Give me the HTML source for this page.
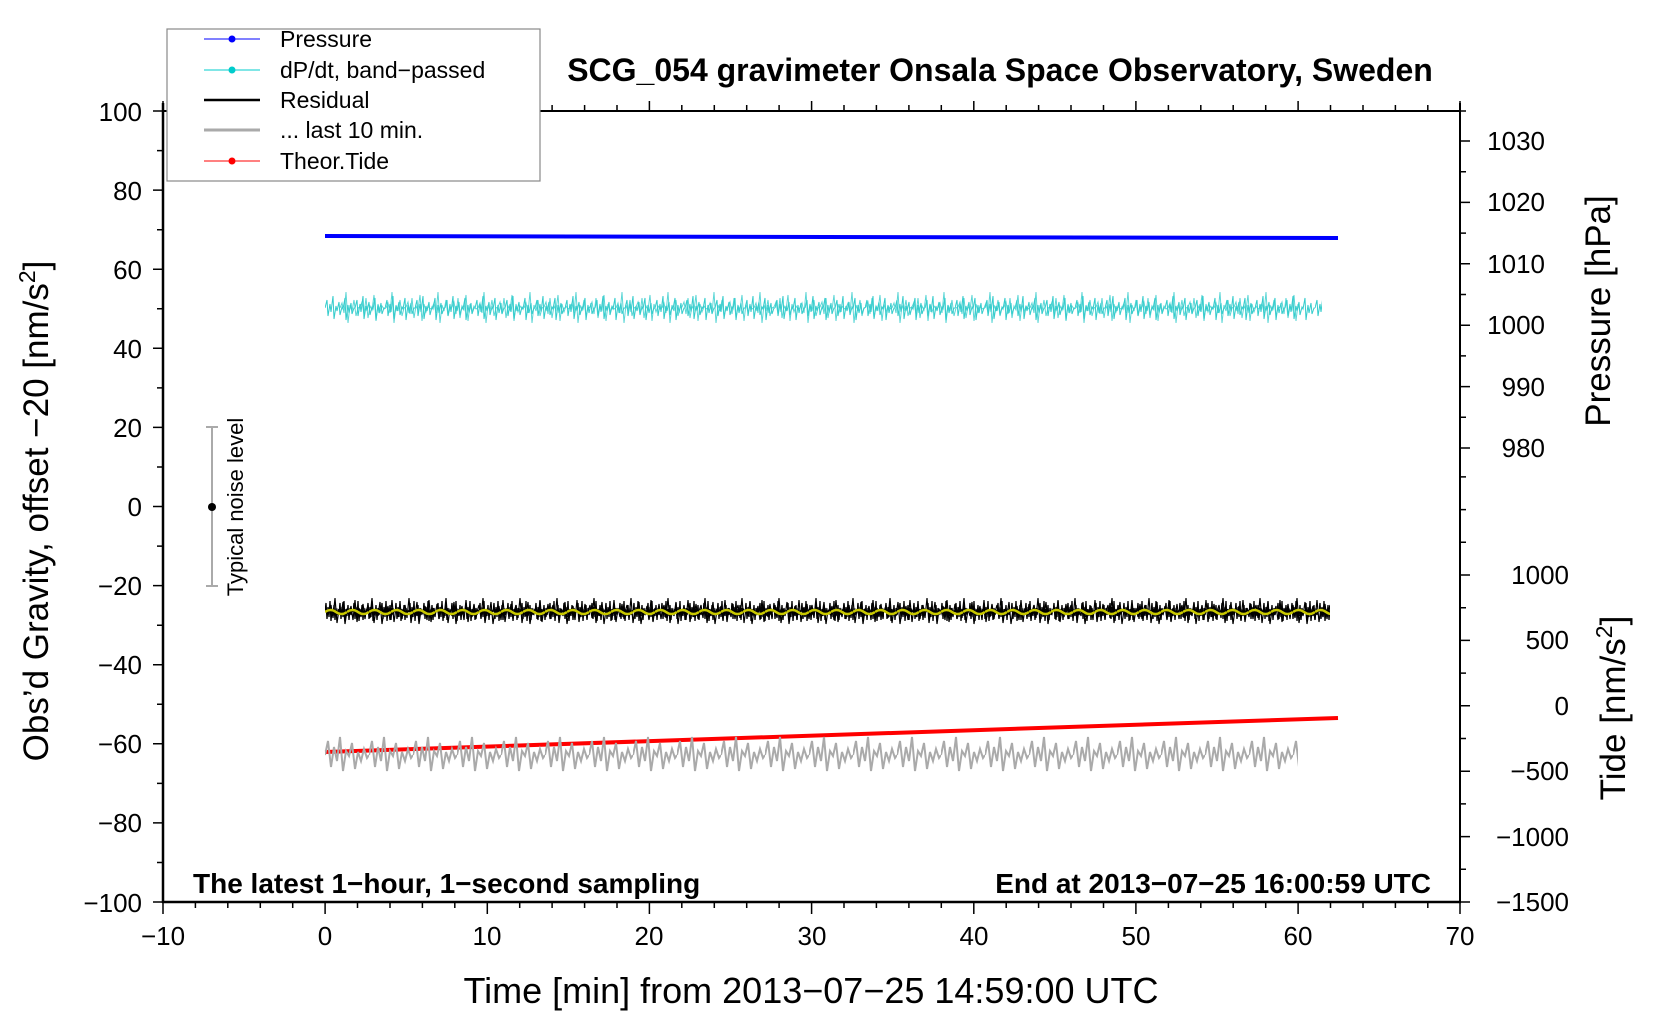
<!DOCTYPE html>
<html><head><meta charset="utf-8"><style>
html,body{margin:0;padding:0;background:#fff;}
svg{display:block;font-family:"Liberation Sans",sans-serif;}
</style></head><body>
<svg width="1660" height="1020" viewBox="0 0 1660 1020" xmlns="http://www.w3.org/2000/svg">
<defs>
<pattern id="pc" patternUnits="userSpaceOnUse" x="325" y="278" width="30" height="60">
<polyline points="0,30 2,22 3,38 5,26 6,34 8,18 9,41 11,28 12,33 14,24 15,37 17,29 18,31 20,20 21,42 23,27 24,35 26,25 27,36 29,30 30,30" fill="none" stroke="#33cccc" stroke-width="1"/>
</pattern>
<pattern id="pc2" patternUnits="userSpaceOnUse" x="340" y="278" width="46" height="60">
<polyline points="0,30 2,25 4,35 6,14 8,45 10,27 12,33 14,22 16,38 18,30 20,29 22,24 24,36 26,20 28,40 30,28 32,32 34,17 36,43 38,26 40,34 42,28 44,31 46,30" fill="none" stroke="#33cccc" stroke-width="1"/>
</pattern>
<pattern id="pk" patternUnits="userSpaceOnUse" x="325" y="590" width="14" height="44">
<polyline points="0,22 1,13 2,29 3,17 4,27 5,11 6,31 7,19 8,26 9,15 10,30 11,18 12,25 13,20 14,22" fill="none" stroke="#000" stroke-width="1.3"/>
</pattern>
<pattern id="pk2" patternUnits="userSpaceOnUse" x="329" y="590" width="37" height="44">
<polyline points="0,22 2,15 4,28 6,8 8,33 10,19 12,26 14,12 16,34 18,20 20,24 22,16 24,30 26,10 28,32 30,18 32,27 34,14 36,29 37,22" fill="none" stroke="#000" stroke-width="1.2"/>
</pattern>
<pattern id="py" patternUnits="userSpaceOnUse" x="325" y="590" width="22" height="44">
<path d="M0,22 Q5.5,18 11,22 T22,22" fill="none" stroke="#c8c800" stroke-width="2.5"/>
</pattern>
<pattern id="pg" patternUnits="userSpaceOnUse" x="325" y="725" width="44" height="60">
<polyline points="0,30 3,16 6,42 9,22 12,36 15,12 18,46 21,26 24,31 27,18 30,44 33,27 36,36 39,24 42,33 44,30" fill="none" stroke="#aaa" stroke-width="2"/>
</pattern>
</defs>
<rect width="1660" height="1020" fill="#fff"/>

<line x1="325" y1="236" x2="1338" y2="238" stroke="#00f" stroke-width="4"/>
<rect x="325" y="278" width="997" height="60" fill="url(#pc)"/>
<rect x="340" y="278" width="960" height="60" fill="url(#pc2)" opacity="0.8"/>
<rect x="325" y="590" width="1005" height="44" fill="url(#pk)"/>
<rect x="329" y="590" width="1001" height="44" fill="url(#pk2)"/>
<rect x="325" y="590" width="1005" height="44" fill="url(#py)"/>
<line x1="325" y1="752" x2="1338" y2="718" stroke="#f00" stroke-width="4"/>
<rect x="325" y="725" width="973" height="60" fill="url(#pg)"/>

<g stroke="#000" stroke-width="1.5" fill="none">
<line x1="163" y1="103" x2="163" y2="903" stroke-width="2.5"/>
<line x1="162" y1="902" x2="1461" y2="902" stroke-width="2.5"/>
<line x1="1460" y1="103" x2="1460" y2="903" stroke-width="2"/>
<line x1="163" y1="111" x2="1460" y2="111" stroke-width="2"/>
<path d="M153,111H163M153,190.1H163M153,269.2H163M153,348.3H163M153,427.4H163M153,506.5H163M153,585.6H163M153,664.7H163M153,743.8H163M153,822.9H163M153,902H163
M157,150.6H163M157,229.7H163M157,308.8H163M157,387.9H163M157,467H163M157,546.1H163M157,625.2H163M157,704.3H163M157,783.4H163M157,862.5H163"/>
<path d="M163,902V914M325.1,902V914M487.3,902V914M649.4,902V914M811.6,902V914M973.8,902V914M1135.9,902V914M1298.1,902V914M1460,902V914
M163,111V101M325.1,111V101M487.3,111V101M649.4,111V101M811.6,111V101M973.8,111V101M1135.9,111V101M1298.1,111V101M1460,111V101
M195.4,902v6M227.8,902v6M260.3,902v6M292.7,902v6M357.5,902v6M390,902v6M422.4,902v6M454.8,902v6M519.7,902v6M552.1,902v6M584.6,902v6M617,902v6M681.8,902v6M714.3,902v6M746.7,902v6M779.1,902v6M844,902v6M876.4,902v6M908.9,902v6M941.3,902v6M1006.2,902v6M1038.6,902v6M1071,902v6M1103.5,902v6M1168.4,902v6M1200.8,902v6M1233.2,902v6M1265.7,902v6M1330.5,902v6M1363,902v6M1395.4,902v6M1427.8,902v6
M195.4,111v-6M227.8,111v-6M260.3,111v-6M292.7,111v-6M357.5,111v-6M390,111v-6M422.4,111v-6M454.8,111v-6M519.7,111v-6M552.1,111v-6M584.6,111v-6M617,111v-6M681.8,111v-6M714.3,111v-6M746.7,111v-6M779.1,111v-6M844,111v-6M876.4,111v-6M908.9,111v-6M941.3,111v-6M1006.2,111v-6M1038.6,111v-6M1071,111v-6M1103.5,111v-6M1168.4,111v-6M1200.8,111v-6M1233.2,111v-6M1265.7,111v-6M1330.5,111v-6M1363,111v-6M1395.4,111v-6M1427.8,111v-6"/>
<path d="M1460,141h10M1460,202.4h10M1460,263.8h10M1460,325.2h10M1460,386.6h10M1460,448h10
M1460,111h6M1460,171.7h6M1460,233.1h6M1460,294.5h6M1460,355.9h6M1460,417.3h6
M1460,575h10M1460,640.4h10M1460,705.8h10M1460,771.2h10M1460,836.6h10M1460,902h10
M1460,476.9h6M1460,509.6h6M1460,542.3h6M1460,607.7h6M1460,673.1h6M1460,738.5h6M1460,803.9h6M1460,869.3h6"/>
</g>

<g font-size="26" fill="#000">
<g text-anchor="end">
<text x="142" y="121">100</text><text x="142" y="200">80</text><text x="142" y="279">60</text><text x="142" y="358">40</text><text x="142" y="437">20</text><text x="142" y="516">0</text><text x="142" y="595">−20</text><text x="142" y="674">−40</text><text x="142" y="753">−60</text><text x="142" y="832">−80</text><text x="142" y="912">−100</text>
</g>
<g text-anchor="middle">
<text x="163" y="945">−10</text><text x="325" y="945">0</text><text x="487" y="945">10</text><text x="649" y="945">20</text><text x="812" y="945">30</text><text x="974" y="945">40</text><text x="1136" y="945">50</text><text x="1298" y="945">60</text><text x="1460" y="945">70</text>
</g>
<g text-anchor="end">
<text x="1545" y="150">1030</text><text x="1545" y="211">1020</text><text x="1545" y="273">1010</text><text x="1545" y="334">1000</text><text x="1545" y="396">990</text><text x="1545" y="457">980</text>
<text x="1569" y="584">1000</text><text x="1569" y="649">500</text><text x="1569" y="715">0</text><text x="1569" y="780">−500</text><text x="1569" y="846">−1000</text><text x="1569" y="911">−1500</text>
</g>
</g>

<rect x="167" y="29" width="373" height="152" fill="#fff" stroke="#888" stroke-width="1.2"/>
<g font-size="23" fill="#000">
<line x1="204" y1="39" x2="260" y2="39" stroke="#00f" stroke-width="1"/><circle cx="232" cy="39" r="3.5" fill="#00f"/>
<text x="280" y="47">Pressure</text>
<line x1="204" y1="70" x2="260" y2="70" stroke="#00cccc" stroke-width="1"/><circle cx="232" cy="70" r="3.5" fill="#00cccc"/>
<text x="280" y="78">dP/dt, band−passed</text>
<line x1="204" y1="100" x2="260" y2="100" stroke="#000" stroke-width="2.5"/>
<text x="280" y="108">Residual</text>
<line x1="204" y1="130" x2="260" y2="130" stroke="#aaa" stroke-width="3"/>
<text x="280" y="138">... last 10 min.</text>
<line x1="204" y1="161" x2="260" y2="161" stroke="#f00" stroke-width="1"/><circle cx="232" cy="161" r="3.5" fill="#f00"/>
<text x="280" y="169">Theor.Tide</text>
</g>
<text x="1000" y="81" font-size="32" font-weight="bold" text-anchor="middle">SCG_054 gravimeter Onsala Space Observatory, Sweden</text>
<text x="193" y="893" font-size="28" font-weight="bold">The latest 1−hour, 1−second sampling</text>
<text x="1431" y="893" font-size="28" font-weight="bold" text-anchor="end">End at 2013−07−25 16:00:59 UTC</text>
<text x="811" y="1003" font-size="36" text-anchor="middle">Time [min] from 2013−07−25 14:59:00 UTC</text>
<text transform="translate(48,511) rotate(-90)" font-size="35" text-anchor="middle">Obs’d Gravity, offset −20 [nm/s<tspan dy="-13" font-size="23">2</tspan><tspan dy="13">]</tspan></text>
<text transform="translate(1610,311) rotate(-90)" font-size="35" text-anchor="middle">Pressure [hPa]</text>
<text transform="translate(1625,708) rotate(-90)" font-size="35" text-anchor="middle">Tide [nm/s<tspan dy="-13" font-size="23">2</tspan><tspan dy="13">]</tspan></text>
<g stroke="#aaa" stroke-width="2"><line x1="212" y1="427" x2="212" y2="586"/><line x1="206" y1="427" x2="218" y2="427"/><line x1="206" y1="586" x2="218" y2="586"/></g>
<circle cx="212" cy="507" r="4" fill="#000"/>
<text transform="translate(243,507) rotate(-90)" font-size="22" text-anchor="middle">Typical noise level</text>
</svg>
</body></html>
